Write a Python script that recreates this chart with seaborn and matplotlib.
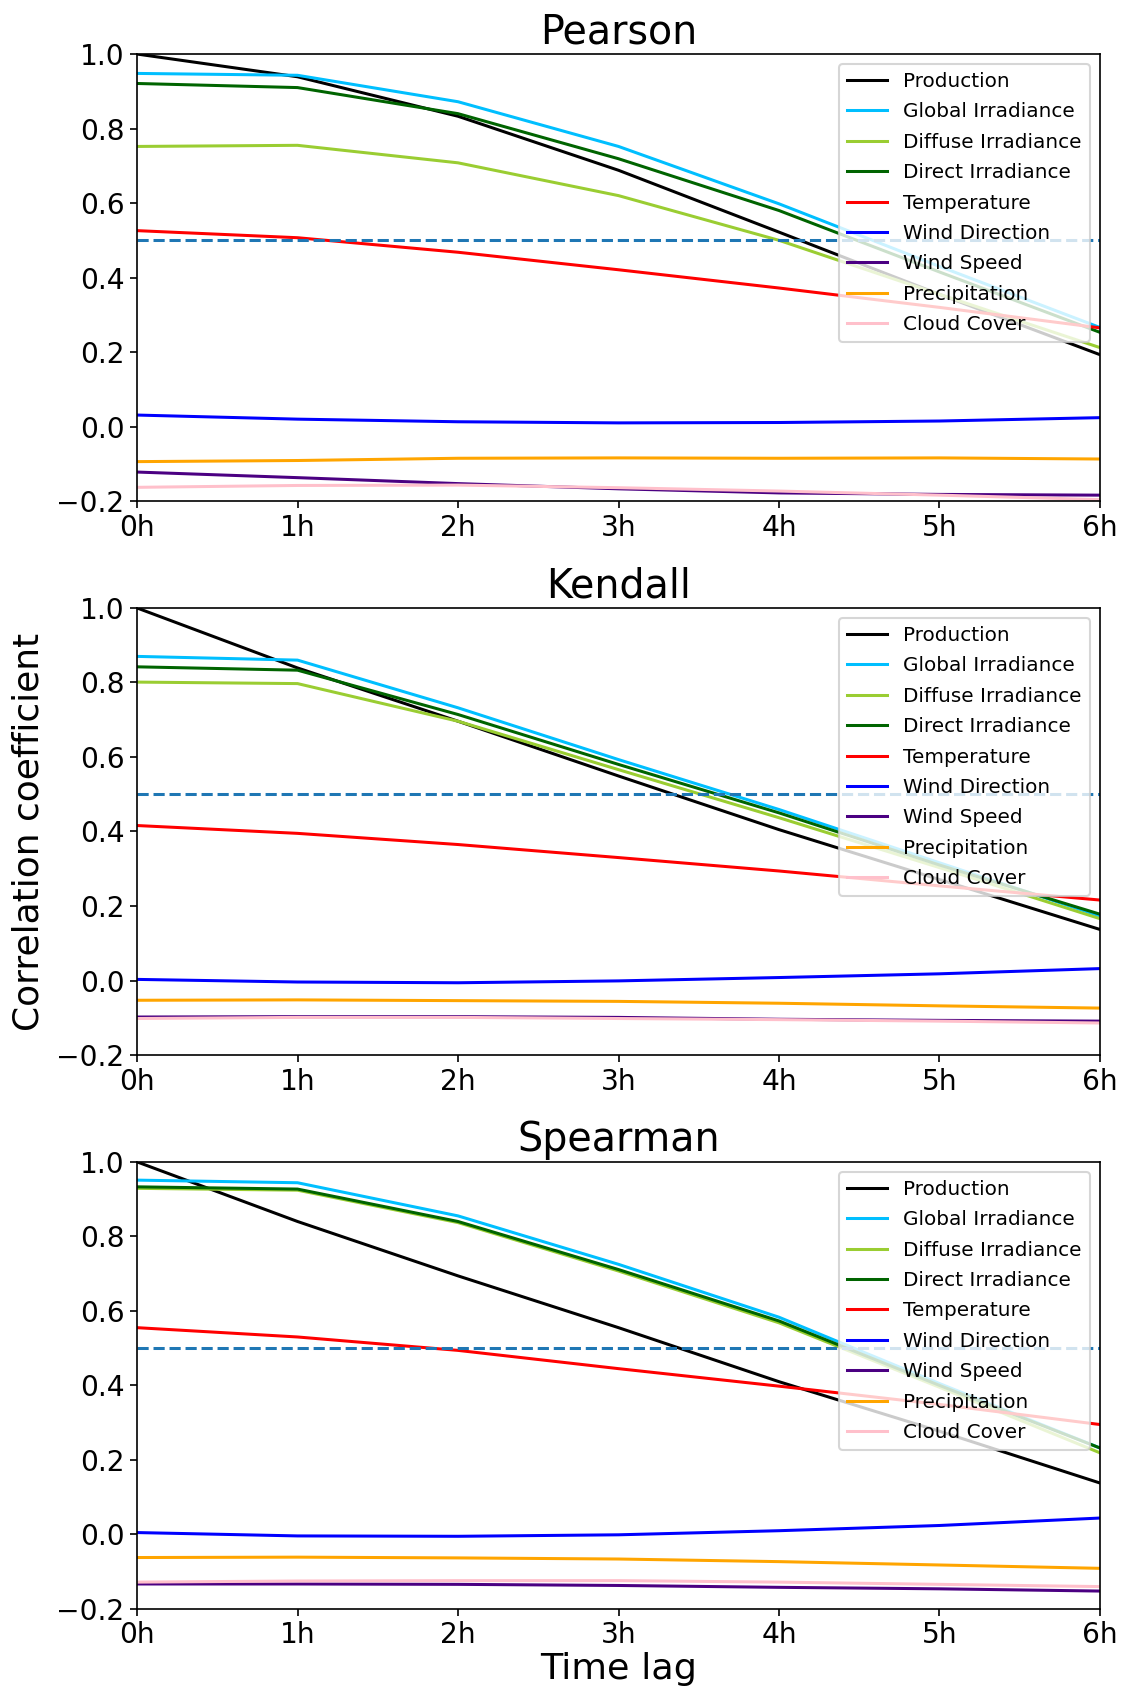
import matplotlib
matplotlib.use("Agg")
import matplotlib.pyplot as plt
import seaborn as sns
import numpy as np

lags = [0, 1, 2, 3, 4, 5, 6]
lag_labels = ["0h", "1h", "2h", "3h", "4h", "5h", "6h"]

series_names = ["Production", "Global Irradiance", "Diffuse Irradiance", "Direct Irradiance",
                "Temperature", "Wind Direction", "Wind Speed", "Precipitation", "Cloud Cover"]
series_colors = ["black", "deepskyblue", "yellowgreen", "darkgreen", "red", "blue",
                 "indigo", "orange", "pink"]

pearson = {
    "Production":         [1.000, 0.939, 0.833, 0.688, 0.522, 0.355, 0.193],
    "Global Irradiance":  [0.948, 0.943, 0.872, 0.752, 0.598, 0.430, 0.266],
    "Diffuse Irradiance": [0.752, 0.755, 0.708, 0.620, 0.500, 0.355, 0.212],
    "Direct Irradiance":  [0.921, 0.910, 0.840, 0.719, 0.580, 0.415, 0.253],
    "Temperature":        [0.526, 0.507, 0.468, 0.421, 0.372, 0.320, 0.265],
    "Wind Direction":     [0.031, 0.020, 0.013, 0.010, 0.011, 0.015, 0.024],
    "Wind Speed":         [-0.122, -0.137, -0.153, -0.167, -0.178, -0.182, -0.184],
    "Precipitation":      [-0.094, -0.091, -0.085, -0.084, -0.085, -0.084, -0.087],
    "Cloud Cover":        [-0.163, -0.158, -0.157, -0.164, -0.173, -0.184, -0.196],
}

kendall = {
    "Production":         [1.000, 0.839, 0.696, 0.549, 0.405, 0.271, 0.137],
    "Global Irradiance":  [0.870, 0.860, 0.732, 0.593, 0.459, 0.316, 0.173],
    "Diffuse Irradiance": [0.801, 0.797, 0.696, 0.566, 0.437, 0.303, 0.166],
    "Direct Irradiance":  [0.842, 0.833, 0.714, 0.580, 0.450, 0.310, 0.178],
    "Temperature":        [0.416, 0.395, 0.365, 0.330, 0.294, 0.254, 0.216],
    "Wind Direction":     [0.003, -0.004, -0.006, -0.001, 0.008, 0.018, 0.032],
    "Wind Speed":         [-0.098, -0.097, -0.097, -0.099, -0.104, -0.107, -0.109],
    "Precipitation":      [-0.053, -0.052, -0.054, -0.056, -0.061, -0.068, -0.074],
    "Cloud Cover":        [-0.102, -0.099, -0.099, -0.102, -0.105, -0.109, -0.114],
}

spearman = {
    "Production":         [1.000, 0.840, 0.694, 0.555, 0.410, 0.277, 0.138],
    "Global Irradiance":  [0.951, 0.944, 0.855, 0.725, 0.583, 0.405, 0.232],
    "Diffuse Irradiance": [0.929, 0.924, 0.837, 0.707, 0.568, 0.395, 0.219],
    "Direct Irradiance":  [0.933, 0.927, 0.840, 0.711, 0.573, 0.400, 0.232],
    "Temperature":        [0.555, 0.530, 0.494, 0.445, 0.398, 0.349, 0.295],
    "Wind Direction":     [0.005, -0.004, -0.005, -0.001, 0.010, 0.024, 0.044],
    "Wind Speed":         [-0.133, -0.133, -0.134, -0.137, -0.142, -0.146, -0.152],
    "Precipitation":      [-0.062, -0.061, -0.063, -0.066, -0.073, -0.082, -0.091],
    "Cloud Cover":        [-0.128, -0.125, -0.124, -0.124, -0.128, -0.134, -0.140],
}

panels = [("Pearson", pearson), ("Kendall", kendall), ("Spearman", spearman)]
threshold = 0.5

plt.rcParams['font.family'] = ['DejaVu Sans']
plt.rcParams['font.size'] = 9.5

fig, axes = plt.subplots(3, 1, figsize=(1126 / 150, 1689 / 150), dpi=150)
fig.subplots_adjust(left=0.1217, right=0.9769, top=0.968, bottom=0.0474, hspace=0.239)

for i, (ax, (title, data)) in enumerate(zip(axes, panels)):
    for name, color in zip(series_names, series_colors):
        sns.lineplot(x=lags, y=data[name], color=color, label=name, ax=ax, linewidth=1.45)
    ax.axhline(threshold, color="tab:blue", linestyle="--", linewidth=1.45)
    ax.set_xlim(0, 6)
    ax.set_ylim(-0.2, 1.0)
    ax.set_xticks(lags)
    ax.set_xticklabels(lag_labels)
    ax.set_yticks([-0.2, 0.0, 0.2, 0.4, 0.6, 0.8, 1.0])
    ax.tick_params(axis="both", labelsize=13.5, pad=2.5)
    ax.set_title(title, fontsize=19, pad=5)
    ax.set_xlabel("")
    ax.set_ylabel("")
    ax.legend(loc="upper right", fontsize=9.6, labelspacing=0.57)

axes[1].set_ylabel("Correlation coefficient", fontsize=17.3, labelpad=5)
axes[2].set_xlabel("Time lag", fontsize=17.5, labelpad=1)

fig.savefig("out.png", dpi=150)
